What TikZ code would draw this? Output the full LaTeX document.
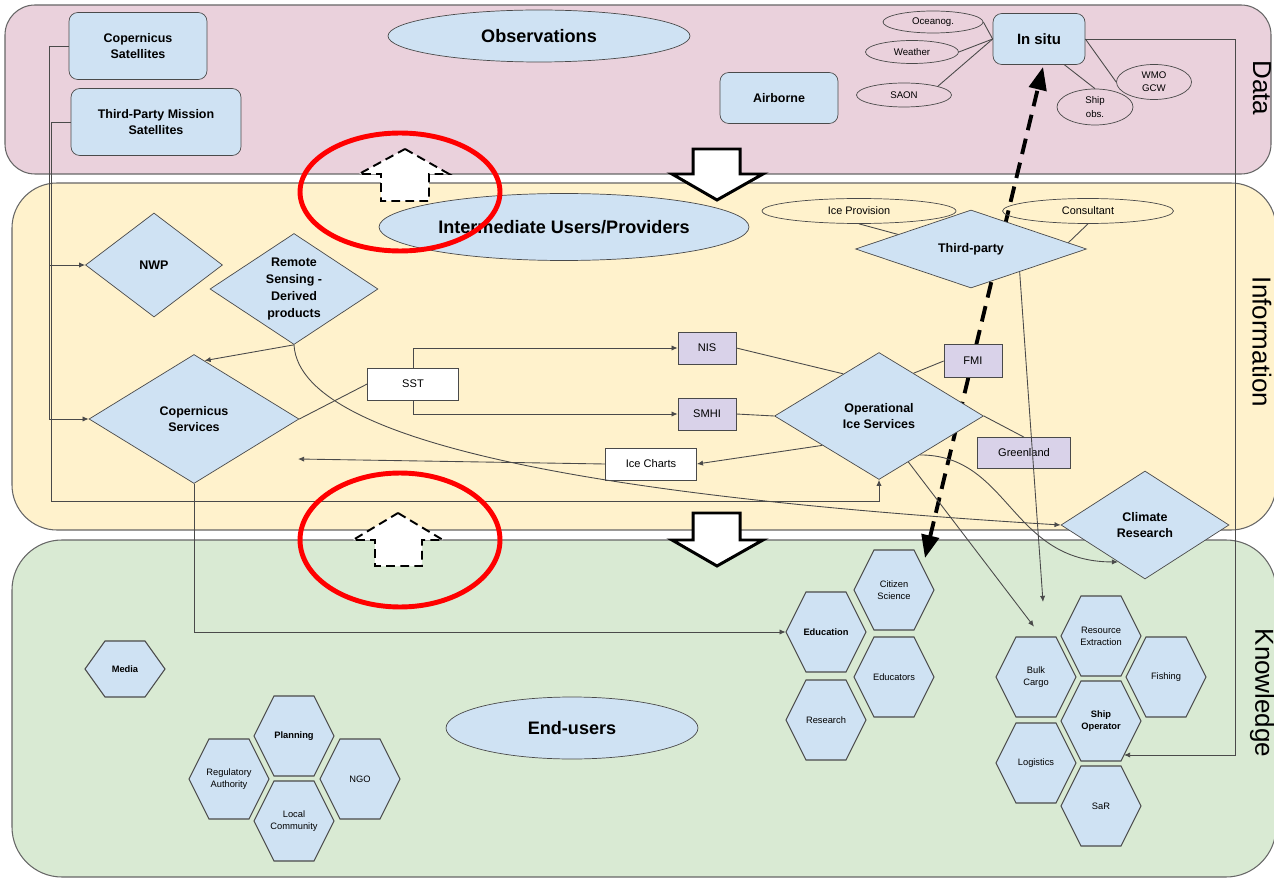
\documentclass[tikz,border=0pt]{standalone}
\usepackage{fontspec}
\setmainfont{Liberation Sans}
\usepackage{tikz}
\usetikzlibrary{positioning,
                arrows.meta,                % arrow tips
                shapes.geometric,           % diamond, ellipse
                calc}

\definecolor{datapink}{HTML}{EAD1DC}
\definecolor{infoyellow}{HTML}{FFF2CC}
\definecolor{knowgreen}{HTML}{D9EAD3}
\definecolor{nodeblue}{HTML}{CFE2F3}
\definecolor{agencypurple}{HTML}{D9D2E9}
\definecolor{edgegray}{HTML}{4A4A4A}
\definecolor{bandgray}{HTML}{666666}

\newcommand{\fsz}[2]{\fontsize{#1}{#2}\selectfont}

\tikzset{
  band/.style={draw=bandgray, line width=0.6pt},
  bandname/.style={rotate=-90, font=\fsz{14.8}{16}},
  sourcebox/.style={draw=edgegray, fill=nodeblue, rounded corners=5pt, align=center,
                    inner sep=0pt, font=\bfseries\fsz{7.1}{9.5}},
  headline/.style={ellipse, draw=edgegray, fill=nodeblue, inner sep=0pt, font=\bfseries\fsz{10.3}{12}},
  tag/.style={ellipse, draw=edgegray, inner sep=0pt, align=center, font=\fsz{5.5}{7.5}},
  service/.style={diamond, aspect=1.5, draw=edgegray, fill=nodeblue, inner sep=0pt, align=center,
                  font=\bfseries\fsz{7.1}{9.5}},
  product/.style={draw=edgegray, fill=white, inner sep=0pt, font=\fsz{6.3}{7.5}},
  agency/.style={product, fill=agencypurple},
  link/.style={draw=edgegray, line width=0.5pt},
  flow/.style={link, -{Latex[length=3.5pt,width=3pt]}},
  hexline/.style={draw=edgegray, fill=nodeblue, line width=0.6pt},
  hextext/.style={inner sep=0pt, align=center, minimum width=1.6cm, font=\fsz{5.3}{7}},
  blockdown/.style={draw=black, fill=white, line width=1.7pt, line join=miter},
  blockup/.style={draw=black, fill=white, line width=1.1pt, dash pattern=on 5pt off 3pt},
  feedback/.style={line width=2.2pt, dash pattern=on 9pt off 5pt,
                   {Triangle[length=13pt,width=10pt]}-{Triangle[length=13pt,width=10pt]}},
  marker/.style={draw=red, line width=2.8pt}
}

% hexagon cell: [half height]{name}{centre}{text}
\newcommand{\hexcell}[4][40]{%
  \path[hexline] (#3) +(-40,0) -- +(-20,-#1) -- +(20,-#1) -- +(40,0) -- +(20,#1) -- +(-20,#1) -- cycle;
  \node[hextext, minimum height=#1*0.04cm] (#2) at (#3) {#4};
}

\begin{document}
\begin{tikzpicture}[x=0.02cm, y=-0.02cm]
        \useasboundingbox (0,0) rectangle (1274,878);

        % bands
        \draw[band, fill=datapink, rounded corners=0.6cm] (5,5) rectangle (1271,174);
        \draw[band, fill=infoyellow, rounded corners=0.9cm] (12,183) rectangle (1276,530);
        \draw[band, fill=knowgreen, rounded corners=1cm] (12,540) rectangle (1276,877);
        \node[bandname] (dataname) at (1262,88) {Data};
        \node[bandname] (infoname) at (1262,342) {Information};
        \node[bandname] (knowname) at (1262,693) {Knowledge};

        % feedback between users and in situ data
        \coordinate (fbtop) at (1043,67);
        \coordinate (fbbot) at (925,558);
        \draw[feedback] (fbbot) -- (fbtop);

        % data
        \node[sourcebox, minimum width=2.76cm, minimum height=1.34cm] (cop) at (138,46) {Copernicus\\Satellites};
        \node[sourcebox, minimum width=3.4cm, minimum height=1.34cm] (tpm) at (156,122) {Third-Party Mission\\Satellites};
        \node[headline, minimum width=6.04cm, minimum height=1.04cm] (obs) at (539,36) {Observations};
        \node[sourcebox, minimum width=2.36cm, minimum height=1.02cm] (air) at (779,98) {Airborne};
        \node[sourcebox, minimum width=1.84cm, minimum height=1.02cm, font=\bfseries\fsz{8.5}{10}] (insitu) at (1039,39) {In situ};
        \node[tag, minimum width=2cm, minimum height=0.44cm] (oce) at (933,22) {Oceanog.};
        \node[tag, minimum width=1.86cm, minimum height=0.46cm] (wea) at (912,52) {Weather};
        \node[tag, minimum width=1.9cm, minimum height=0.48cm] (saon) at (904,95) {SAON};
        \node[tag, minimum width=1.52cm, minimum height=0.72cm] (ship) at (1095,107) {Ship\\obs.};
        \node[tag, minimum width=1.5cm, minimum height=0.7cm] (wmo) at (1154,82) {WMO\\GCW};

        % information
        \node[headline, minimum width=7.4cm, minimum height=1.34cm] (iup) at (564,227) {Intermediate Users/Providers};
        \node[service, minimum width=2.74cm, minimum height=2.08cm] (nwp) at (154,265) {NWP};
        \node[service, minimum width=3.36cm, minimum height=2.22cm] (rsp) at (294,289) {Remote\\Sensing -\\Derived\\products};
        \node[service, minimum width=4.2cm, minimum height=2.58cm] (cs) at (194,419) {Copernicus\\Services};
        \node[product, minimum width=1.82cm, minimum height=0.64cm] (sst) at (413,384) {SST};
        \node[agency, minimum width=1.16cm, minimum height=0.64cm] (nis) at (707,348) {NIS};
        \node[agency, minimum width=1.16cm, minimum height=0.64cm] (smhi) at (707,414) {SMHI};
        \node[product, minimum width=1.82cm, minimum height=0.64cm] (charts) at (651,464) {Ice Charts};
        \node[tag, minimum width=3.88cm, minimum height=0.5cm, font=\fsz{6.2}{7.5}] (iceprov) at (859,211) {Ice Provision};
        \node[tag, minimum width=3.42cm, minimum height=0.5cm, font=\fsz{6.2}{7.5}] (consult) at (1088,211) {Consultant};
        \node[service, minimum width=4.62cm, minimum height=1.56cm] (tp) at (971,249) {Third-party};
        \node[agency, minimum width=1.16cm, minimum height=0.66cm] (fmi) at (973,361) {FMI};
        \node[agency, minimum width=1.86cm, minimum height=0.62cm] (green) at (1024,453) {Greenland};
        \node[service, minimum width=4.18cm, minimum height=2.54cm] (ois) at (879,416) {Operational\\Ice Services};
        \node[service, minimum width=3.36cm, minimum height=2.16cm] (clim) at (1145,525) {Climate\\Research};

        % knowledge
        \node[headline, minimum width=5.04cm, minimum height=1.24cm] (endu) at (572,728) {End-users};
        \hexcell[28]{media}{125,669}{\textbf{Media}}
        \hexcell{plan}{294,736}{\textbf{Planning}}
        \hexcell{reg}{229,779}{Regulatory\\Authority}
        \hexcell{ngo}{360,779}{NGO}
        \hexcell{local}{294,821}{Local\\Community}
        \hexcell{citsci}{894,590}{Citizen\\Science}
        \hexcell{edu}{826,632}{\textbf{Education}}
        \hexcell{educ}{894,677}{Educators}
        \hexcell{res}{826,720}{Research}
        \hexcell{bulk}{1036,677}{Bulk\\Cargo}
        \hexcell{resx}{1101,636}{Resource\\Extraction}
        \hexcell{fish}{1166,677}{Fishing}
        \hexcell{shipop}{1101,721}{\textbf{Ship}\\\textbf{Operator}}
        \hexcell{logi}{1036,763}{Logistics}
        \hexcell{sar}{1101,806}{SaR}

        % connectors
        \coordinate (busA) at (49,0);
        \coordinate (busB) at (51,501);
        \coordinate (busC) at (1235,0);
        \coordinate (chartsend) at (298,459);
        \coordinate (opsend) at (1043,602);

        \draw[flow] (cop.west) -- (cop.west -| busA) |- (nwp.west);
        \draw[flow] (cop.west -| busA) |- (cs.west);
        \draw[flow] (tpm.west) -- (tpm.west -| busB) -- (busB) -| (ois.south);
        \draw[flow] (insitu.east) -- (insitu.east -| busC) |- ($(shipop)+(23,34)$);

        \draw[link] (oce.east) -- (insitu.west);
        \draw[link] (wea.east) -- (insitu.west);
        \draw[link] (saon.north east) -- (insitu.west);
        \draw[link] ($(insitu.south)!0.55!(insitu.south east)$) -- (ship.north);
        \draw[link] (insitu.east) -- (wmo.west);

        \draw[link] (iceprov.south) -- ($(tp.north)!0.63!(tp.west)$);
        \draw[link] (consult.south) -- ($(tp.north)!0.84!(tp.east)$);

        \draw[flow] (rsp.south) -- ($(cs.north)!0.1!(cs.east)$);
        \draw[flow] (rsp.south) .. controls +(6,106) and +(-411,-25) .. (clim.west);
        \draw[link] (sst.west) -- (cs.east);
        \draw[flow] (sst.north) |- (nis.west);
        \draw[flow] (sst.south) |- (smhi.west);
        \draw[link] (nis.east) -- ($(ois.north)!0.34!(ois.west)$);
        \draw[link] (smhi.east) -- (ois.west);
        \draw[link] (fmi.west) -- ($(ois.north)!0.33!(ois.east)$);
        \draw[link] (ois.east) -- (green.north);
        \draw[flow] ($(ois.west)!0.46!(ois.south)$) -- (charts.east);
        \draw[flow] (charts.west) -- (chartsend);
        \draw[flow] (cs.south) |- (edu.west);
        \draw[flow] ($(ois.south)!0.28!(ois.east)$) -- ($(bulk.north)+(-2,-10)$);
        \draw[flow] ($(ois.south)!0.39!(ois.east)$) .. controls +(90,0) and +(-108,0) .. ($(clim.west)!0.68!(clim.south)$);
        \draw[flow] ($(tp.south)!0.42!(tp.east)$) -- (opsend);

        % block arrows between the bands
        \draw[blockup] (405,149) -- (449,174) -- (429,174) -- (429,201) -- (381,201) -- (381,174) -- (359,174) -- cycle;
        \draw[blockup] (398,513) -- (443,540) -- (422,540) -- (422,566) -- (375,566) -- (375,540) -- (353,540) -- cycle;
        \draw[blockdown] (693,149) -- (740,149) -- (740,174) -- (763,174) -- (717,200) -- (672,174) -- (693,174) -- cycle;
        \draw[blockdown] (693,513) -- (740,513) -- (740,540) -- (763,540) -- (717,566) -- (672,540) -- (693,540) -- cycle;

        \draw[marker] (400,192) ellipse [x radius=2cm, y radius=1.18cm];
        \draw[marker] (400,540) ellipse [x radius=2cm, y radius=1.34cm];

\end{tikzpicture}
\end{document}
